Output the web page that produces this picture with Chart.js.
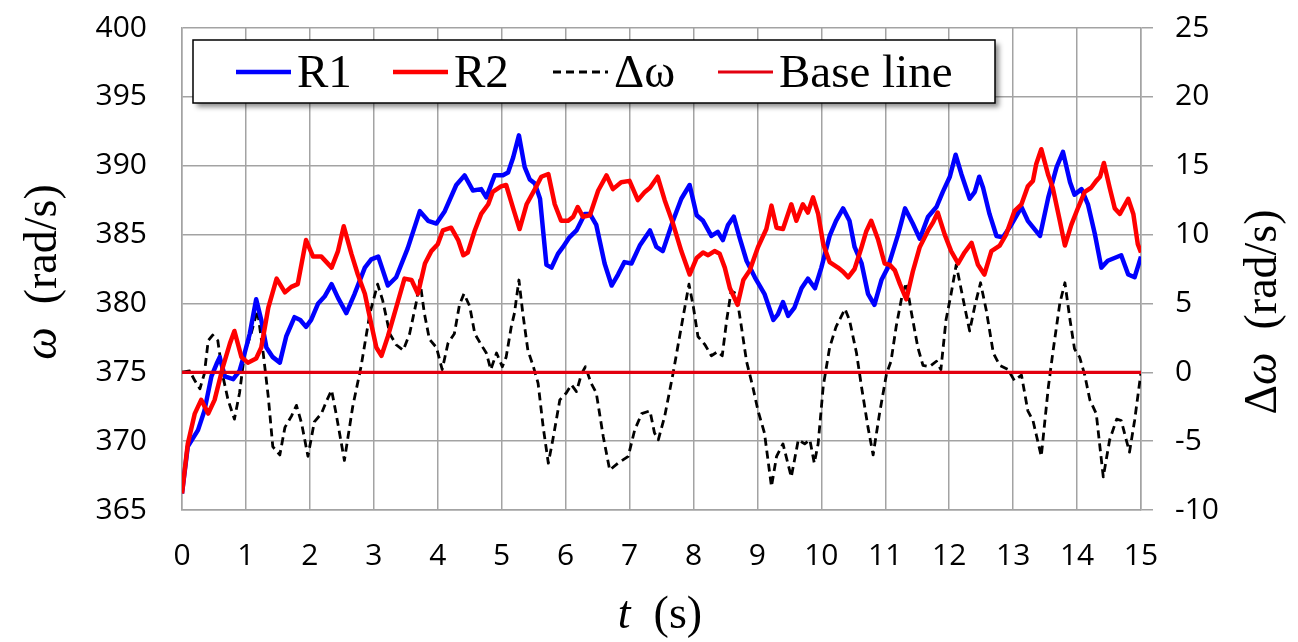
<!DOCTYPE html>
<html>
<head>
<meta charset="utf-8">
<script src="https://cdn.jsdelivr.net/npm/chart.js@4.4.1/dist/chart.umd.min.js"></script>
<style>
  body { margin: 0; background: #fff; }
  canvas { display: block; }
</style>
</head>
<body>
<canvas id="speed-chart" width="1298" height="642"></canvas>
<script>
// time (s) and speed (rad/s)
var tR1 = [0, 0.09, 0.25, 0.35, 0.46, 0.54, 0.59, 0.67, 0.8, 0.9,
  0.98, 1.06, 1.16, 1.24, 1.32, 1.42, 1.53, 1.63, 1.76, 1.85,
  1.94, 2.02, 2.13, 2.23, 2.34, 2.44, 2.57, 2.70, 2.86, 2.96,
  3.07, 3.22, 3.35, 3.53, 3.72, 3.85, 3.98, 4.11, 4.29, 4.42,
  4.55, 4.68, 4.76, 4.89, 5.02, 5.10, 5.18, 5.27, 5.36, 5.44,
  5.52, 5.60, 5.70, 5.78, 5.88, 5.96, 6.06, 6.17, 6.30, 6.38,
  6.48, 6.61, 6.72, 6.82, 6.92, 7.03, 7.16, 7.32, 7.42, 7.52,
  7.68, 7.81, 7.94, 8.05, 8.15, 8.28, 8.38, 8.46, 8.54, 8.63,
  8.72, 8.83, 8.96, 9.11, 9.25, 9.32, 9.40, 9.48, 9.58, 9.69,
  9.79, 9.90, 10.0, 10.13, 10.23, 10.34, 10.44, 10.52, 10.63, 10.73,
  10.83, 10.94, 11.04, 11.20, 11.31, 11.43, 11.54, 11.67, 11.80, 11.90,
  12.01, 12.10, 12.19, 12.32, 12.40, 12.47, 12.53, 12.63, 12.74, 12.84,
  12.97, 13.13, 13.23, 13.42, 13.55, 13.68, 13.78, 13.89, 13.96, 14.07,
  14.17, 14.28, 14.38, 14.48, 14.69, 14.80, 14.90, 15.0];
var wR1 = [366.2, 369.6, 370.8, 372.2, 374.7, 375.6, 376.1, 374.7, 374.5, 375.1,
  376.4, 377.8, 380.3, 378.8, 376.8, 376.1, 375.7, 377.6, 379.0, 378.8,
  378.3, 378.8, 380.0, 380.5, 381.4, 380.4, 379.3, 380.7, 382.6, 383.2,
  383.4, 381.3, 381.9, 384.0, 386.7, 386.0, 385.8, 386.7, 388.6, 389.3,
  388.2, 388.3, 387.7, 389.3, 389.3, 389.5, 390.6, 392.2, 389.9, 389.0,
  388.7, 387.6, 382.8, 382.6, 383.6, 384.1, 384.8, 385.3, 386.5, 386.5,
  385.7, 382.9, 381.3, 382.1, 383.0, 382.9, 384.2, 385.3, 384.1, 383.8,
  386.0, 387.6, 388.6, 386.4, 386.0, 384.9, 385.2, 384.6, 385.7, 386.3,
  384.8, 383.1, 381.9, 380.7, 378.8, 379.2, 380.1, 379.1, 379.7, 381.1,
  381.8, 381.1, 382.6, 384.9, 386.0, 386.9, 386.0, 384.1, 382.9, 380.7,
  379.9, 381.7, 382.6, 385.0, 386.9, 385.8, 384.7, 386.3, 387.0, 388.1,
  389.2, 390.8, 389.4, 387.6, 388.1, 389.2, 388.4, 386.5, 384.9, 384.8,
  385.7, 387.0, 386.0, 384.9, 387.7, 389.9, 391.0, 388.8, 387.9, 388.3,
  387.2, 385.0, 382.6, 383.1, 383.5, 382.1, 381.9, 383.4];

var tR2 = [0, 0.09, 0.2, 0.30, 0.41, 0.51, 0.64, 0.75, 0.82, 0.93,
  1.03, 1.16, 1.24, 1.35, 1.48, 1.61, 1.71, 1.81, 1.94, 2.05,
  2.18, 2.34, 2.44, 2.53, 2.65, 2.75, 2.86, 2.96, 3.04, 3.12,
  3.22, 3.35, 3.48, 3.59, 3.69, 3.80, 3.90, 4.00, 4.08, 4.21,
  4.32, 4.40, 4.47, 4.58, 4.68, 4.79, 4.86, 4.99, 5.07, 5.18,
  5.28, 5.39, 5.52, 5.62, 5.73, 5.83, 5.93, 6.04, 6.12, 6.19,
  6.27, 6.38, 6.51, 6.64, 6.74, 6.87, 7.00, 7.13, 7.24, 7.32,
  7.44, 7.55, 7.68, 7.81, 7.94, 8.05, 8.15, 8.23, 8.33, 8.41,
  8.49, 8.57, 8.69, 8.78, 8.88, 9.01, 9.14, 9.22, 9.30, 9.40,
  9.53, 9.61, 9.71, 9.79, 9.87, 9.95, 10.03, 10.13, 10.26, 10.34,
  10.42, 10.52, 10.63, 10.70, 10.78, 10.89, 10.99, 11.07, 11.15, 11.23,
  11.33, 11.43, 11.54, 11.67, 11.75, 11.82, 11.93, 12.03, 12.14, 12.24,
  12.35, 12.45, 12.55, 12.66, 12.79, 12.89, 13.02, 13.13, 13.23, 13.31,
  13.36, 13.44, 13.55, 13.62, 13.73, 13.81, 13.91, 14.02, 14.12, 14.22,
  14.30, 14.36, 14.42, 14.51, 14.59, 14.67, 14.80, 14.88, 14.95, 15.0];
var wR2 = [366.2, 369.8, 372.0, 373.0, 372.0, 373.0, 375.4, 377.1, 378.0, 376.1,
  375.7, 376.0, 376.8, 379.7, 381.8, 380.8, 381.2, 381.4, 384.6, 383.4,
  383.4, 382.6, 383.8, 385.6, 383.6, 382.1, 380.7, 378.5, 376.8, 376.2,
  377.6, 379.7, 381.8, 381.7, 380.7, 382.9, 383.8, 384.3, 385.3, 385.5,
  384.6, 383.5, 383.7, 385.3, 386.5, 387.2, 388.1, 388.5, 388.6, 386.9,
  385.4, 387.2, 388.3, 389.2, 389.4, 387.2, 386.0, 386.0, 386.3, 387.0,
  386.3, 386.4, 388.2, 389.3, 388.3, 388.8, 388.9, 387.5, 388.1, 388.4,
  389.2, 387.5, 385.8, 383.8, 382.1, 383.3, 383.7, 383.5, 383.8, 383.6,
  382.6, 381.1, 379.9, 381.7, 382.4, 384.1, 385.4, 387.1, 385.5, 385.4,
  387.2, 386.0, 387.2, 386.6, 387.7, 386.5, 384.3, 383.0, 382.6, 382.3,
  381.9, 382.5, 384.1, 385.2, 386.0, 384.6, 382.9, 382.8, 382.4, 381.4,
  380.3, 382.3, 384.1, 385.3, 385.9, 386.6, 385.0, 383.8, 382.9, 383.7,
  384.4, 382.8, 382.1, 383.8, 384.2, 385.0, 386.7, 387.2, 388.5, 388.9,
  390.1, 391.2, 389.3, 388.4, 386.0, 384.2, 385.7, 387.0, 388.1, 388.4,
  388.9, 389.2, 390.2, 388.4, 386.9, 386.5, 387.6, 386.5, 384.3, 383.7];

// speed difference (rad/s), right axis
var tDw = [0, 0.12, 0.2, 0.28, 0.35, 0.41, 0.48, 0.56, 0.64, 0.72,
  0.82, 0.90, 0.98, 1.08, 1.18, 1.27, 1.35, 1.42, 1.53, 1.61,
  1.71, 1.79, 1.87, 1.97, 2.07, 2.18, 2.26, 2.34, 2.41, 2.54,
  2.67, 2.80, 2.94, 3.06, 3.14, 3.25, 3.35, 3.46, 3.56, 3.67,
  3.72, 3.79, 3.87, 3.98, 4.07, 4.16, 4.26, 4.34, 4.41, 4.50,
  4.58, 4.68, 4.76, 4.83, 4.92, 5.01, 5.07, 5.15, 5.20, 5.27,
  5.33, 5.41, 5.49, 5.57, 5.65, 5.73, 5.80, 5.91, 6.01, 6.09,
  6.17, 6.25, 6.31, 6.40, 6.48, 6.59, 6.69, 6.82, 6.98, 7.08,
  7.19, 7.32, 7.39, 7.45, 7.55, 7.68, 7.81, 7.93, 8.00, 8.07,
  8.18, 8.28, 8.38, 8.45, 8.52, 8.59, 8.67, 8.75, 8.83, 8.93,
  9.01, 9.11, 9.22, 9.30, 9.40, 9.53, 9.64, 9.74, 9.82, 9.89,
  9.95, 10.03, 10.13, 10.23, 10.37, 10.44, 10.55, 10.63, 10.73, 10.81,
  10.91, 11.02, 11.09, 11.17, 11.26, 11.33, 11.41, 11.51, 11.59, 11.69,
  11.80, 11.87, 11.95, 12.03, 12.11, 12.24, 12.32, 12.40, 12.49, 12.58,
  12.69, 12.79, 12.92, 13.02, 13.13, 13.23, 13.31, 13.44, 13.55, 13.62,
  13.73, 13.81, 13.89, 13.96, 14.04, 14.12, 14.20, 14.30, 14.41, 14.51,
  14.62, 14.69, 14.82, 14.90, 15.0];
var dW = [0, 0.1, -0.6, -1.2, -0.1, 2.3, 2.7, 2.3, -0.3, -2.0,
  -3.4, -1.5, 1.4, 2.8, 4.5, 1.4, -1.8, -5.4, -6.0, -4.0,
  -3.2, -2.4, -3.7, -6.1, -3.6, -3.0, -2.1, -1.3, -3.0, -6.4,
  -2.5, 0.4, 4.3, 6.4, 5.2, 2.8, 2.0, 1.6, 2.8, 5.2,
  6.7, 4.3, 2.4, 1.8, 0.2, 2.1, 2.8, 4.9, 5.7, 4.8,
  2.8, 2.0, 1.4, 0.2, 1.4, 0.4, 1.1, 3.3, 4.3, 6.7,
  4.3, 1.6, 0.5, -0.8, -4.0, -6.6, -4.9, -2.0, -1.5, -0.9,
  -1.4, -0.1, 0.4, -0.8, -1.5, -4.7, -7.1, -6.6, -6.1, -4.2,
  -3.0, -2.8, -4.4, -4.9, -3.2, -0.1, 3.3, 6.4, 4.7, 2.6,
  2.0, 1.2, 1.5, 1.2, 3.8, 5.9, 5.7, 3.3, 0.8, -1.1,
  -2.8, -4.4, -8.3, -6.1, -5.2, -7.6, -4.9, -5.2, -4.9, -6.6,
  -5.2, -1.0, 1.8, 3.3, 4.6, 3.8, 1.4, -1.1, -4.0, -6.0,
  -3.0, -0.1, 0.8, 3.3, 5.5, 6.5, 4.3, 1.8, 0.5, 0.4,
  0.8, 0.2, 3.8, 5.7, 7.8, 4.8, 3.0, 4.8, 6.5, 4.5,
  1.4, 0.5, 0.2, -0.6, -0.2, -2.8, -3.5, -6.1, -1.1, 1.4,
  5.0, 6.5, 3.8, 1.7, 1.1, -0.2, -2.0, -3.0, -7.6, -4.9,
  -3.4, -3.5, -5.8, -3.5, 0.0];

var tBase = [0, 15];
var wBase = [375, 375];

var xTicks = [0, 15, 1];       // min, max, step
var yTicks = [365, 400, 5];
var y2Ticks = [-10, 25, 5];

function pts(t, v) {
  var out = [];
  for (var i = 0; i < Math.min(t.length, v.length); i++) out.push({x: t[i], y: v[i]});
  return out;
}

var GRID = '#a3a3a3';
var SERIF = '"Liberation Serif", "DejaVu Serif", serif';

// legend box + axis titles (mixed italic / upright text)
var extras = {
  id: 'extras',
  afterDraw: function(chart) {
    var ctx = chart.ctx;
    ctx.save();

    // legend box
    ctx.shadowColor = 'rgba(0,0,0,0.45)';
    ctx.shadowBlur = 5;
    ctx.shadowOffsetX = 4;
    ctx.shadowOffsetY = 4;
    ctx.fillStyle = '#fff';
    ctx.fillRect(193, 40, 802, 63);
    ctx.shadowColor = 'transparent';
    ctx.strokeStyle = '#000';
    ctx.lineWidth = 1.5;
    ctx.strokeRect(193, 40, 802, 63);

    var starts = [236, 393, 553, 718];
    ctx.font = '47px ' + SERIF;
    ctx.textBaseline = 'middle';
    ctx.textAlign = 'left';
    chart.data.datasets.forEach(function(ds, i) {
      var x0 = starts[i], y0 = 72;
      ctx.beginPath();
      ctx.strokeStyle = ds.borderColor;
      ctx.lineWidth = ds.borderWidth;
      ctx.setLineDash(ds.borderDash || []);
      ctx.moveTo(x0, y0);
      ctx.lineTo(x0 + 55, y0);
      ctx.stroke();
      ctx.setLineDash([]);
      ctx.fillStyle = '#000';
      ctx.fillText(ds.label, x0 + 61, y0 + 3);
    });

    function mixed(parts, cx, cy, rot) {
      ctx.save();
      ctx.translate(cx, cy);
      ctx.rotate(rot);
      var total = 0;
      parts.forEach(function(p) { ctx.font = p[1] + ' 46px ' + SERIF; total += ctx.measureText(p[0]).width; });
      var x = -total / 2;
      ctx.textBaseline = 'middle';
      ctx.textAlign = 'left';
      ctx.fillStyle = '#000';
      parts.forEach(function(p) {
        ctx.font = p[1] + ' 46px ' + SERIF;
        ctx.fillText(p[0], x, 0);
        x += ctx.measureText(p[0]).width;
      });
      ctx.restore();
    }
    mixed([['ω', 'italic'], ['  (rad/s)', 'normal']], 44, 272, -Math.PI / 2);
    mixed([['Δ', 'normal'], ['ω', 'italic'], ['  (rad/s)', 'normal']], 1264, 312, -Math.PI / 2);
    mixed([['t', 'italic'], ['  (s)', 'normal']], 660, 616, 0);

    ctx.restore();
  }
};

// keep the plot box where it is in the picture (no label padding at top/bottom)
function fixY(width) {
  return function(s) { s.width = width; s.paddingTop = 0; s.paddingBottom = 0; };
}

Chart.defaults.font.family = '"Open Sans", "Noto Sans", sans-serif';
Chart.defaults.color = '#000';

new Chart(document.getElementById('speed-chart'), {
  type: 'line',
  data: {
    datasets: [
      { label: 'R1', data: pts(tR1, wR1), borderColor: '#0000ff', borderWidth: 4.5, yAxisID: 'y', order: 2 },
      { label: 'R2', data: pts(tR2, wR2), borderColor: '#ff0000', borderWidth: 4.5, yAxisID: 'y', order: 1 },
      { label: 'Δω', data: pts(tDw, dW), borderColor: '#000000', borderWidth: 2.8, borderDash: [8, 5], yAxisID: 'y2', order: 3 },
      { label: 'Base line', data: pts(tBase, wBase), borderColor: '#e3000f', borderWidth: 3.2, yAxisID: 'y', order: 0 }
    ]
  },
  options: {
    responsive: false,
    animation: false,
    layout: { padding: { top: 28, left: 0, right: 0, bottom: 0 } },
    elements: { point: { radius: 0 }, line: { tension: 0, borderCapStyle: 'butt', borderJoinStyle: 'round' } },
    plugins: { legend: { display: false }, tooltip: { enabled: false } },
    scales: {
      x: {
        type: 'linear',
        min: xTicks[0], max: xTicks[1],
        ticks: { stepSize: xTicks[2], padding: 28, font: { size: 30 }, maxRotation: 0 },
        grid: { color: GRID, lineWidth: 1.5, drawTicks: false },
        border: { color: GRID, width: 1.5 },
        afterFit: function(s) { s.height = 132; }
      },
      y: {
        position: 'left',
        min: yTicks[0], max: yTicks[1],
        ticks: { stepSize: yTicks[2], padding: 35, font: { size: 30 } },
        grid: { color: GRID, lineWidth: 1.5, drawTicks: false },
        border: { color: GRID, width: 1.5 },
        afterFit: fixY(182)
      },
      y2: {
        position: 'right',
        min: y2Ticks[0], max: y2Ticks[1],
        ticks: { stepSize: y2Ticks[2], padding: 22, font: { size: 30 } },
        grid: { drawOnChartArea: false, color: GRID, lineWidth: 1.5, tickLength: 12 },
        border: { color: GRID, width: 1.5 },
        afterFit: fixY(157)
      }
    }
  },
  plugins: [extras]
});
</script>
</body>
</html>
